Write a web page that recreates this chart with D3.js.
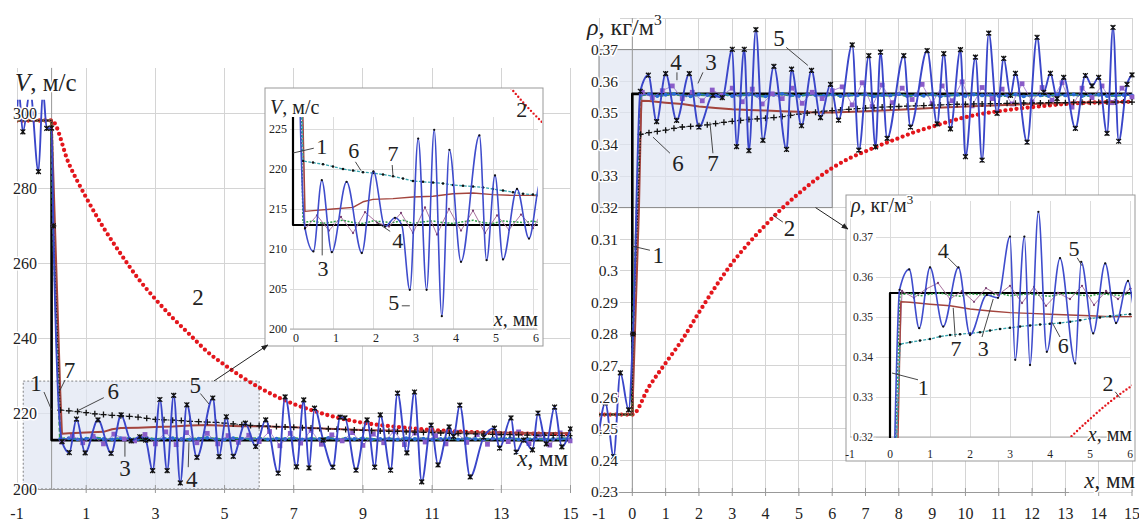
<!DOCTYPE html>
<html><head><meta charset="utf-8">
<script src="https://d3js.org/d3.v7.min.js"></script>
<style>
html,body{margin:0;padding:0;background:#fff;overflow:hidden}
svg text{font-family:"Liberation Serif","Times New Roman",serif;fill:#222}
.halo{paint-order:stroke;stroke:#fff;stroke-width:3px;stroke-linejoin:round}
</style></head><body>
<svg id="chart" width="1139" height="521"></svg>
<script>
// ================= DATA =================
const xq = [0.25,0.5,0.75,1,1.25,1.5,1.75,2,2.25,2.5,2.75,3,3.25,3.5,3.75,4,4.25,4.5,4.75,5,
  5.25,5.5,5.75,6,6.25,6.5,6.75,7,7.25,7.5,7.75,8,8.25,8.5,8.75,9,9.25,9.5,9.75,10,
  10.25,10.5,10.75,11,11.25,11.5,11.75,12,12.25,12.5,12.75,13,13.25,13.5,13.75,14,14.25,14.5,14.75,15];
const x4 = [0.3,0.6,0.9,1.2,1.5,1.8,2.1,2.4,2.7,3.0,3.3,3.6,3.9,4.2,4.5,4.8,5.1,5.4,5.7,6.0,
  6.3,6.6,6.9,7.2,7.5,7.8,8.1,8.4,8.7,9.0,9.3,9.6,9.9,10.2,10.5,10.8,11.1,11.4,11.7,12.0,
  12.3,12.6,12.9,13.2,13.5,13.8,14.1,14.4,14.7,15.0];

// ---- Velocity V, m/s ----
const V1_x = [-1,0,0,15];
const V1_y = [298,298,213,213];
const V2_x = [-1,0,0.5,1,1.5,2,2.5,3,3.5,4,4.5,5,5.5,6,6.5,7,7.5,8,8.5,9,9.5,10,10.5,11,11.5,12,13,14,15];
const V2_y = [298,298,286.5,277.5,269.5,262.5,256,250.5,245.5,241,236.5,233,229.8,227,224.6,222.6,221,219.6,218.5,217.6,217,216.5,216.1,215.7,215.4,215.2,214.9,214.7,214.6];
const V3_x = [-1,0,0.05,...xq];
const V3_y = [298,298,270,
  213.3,213.5,213.2,213.4,213.6,213.3,213.2,213.5,213.4,213.3,
  213.6,213.2,213.4,213.5,213.3,213.2,213.4,213.6,213.3,213.2,
  213.5,213.4,213.3,213.5,213.2,213.4,213.3,213.5,213.2,213.4,
  213.3,213.6,213.2,213.4,213.3,213.5,213.2,213.3,213.4,213.2,
  213.5,213.3,213.4,213.2,213.3,213.5,213.2,213.4,213.3,213.2,
  213.4,213.3,213.5,213.2,213.3,213.4,213.2,213.3,213.4,213.3];
const V4_x = [-1,0,0.05,...x4];
const V4_y = [298,298,270,
  212.5,214.2,212.3,214.0,212.0,214.6,213.3,212.8,214.5,212.0,
  215.2,211.8,215.0,212.3,214.8,212.0,214.2,212.4,214.3,212.6,
  215.3,211.5,214.8,212.2,215.6,211.9,214.4,212.8,215.0,211.6,
  214.6,212.3,215.4,211.8,214.9,212.5,214.2,212.0,215.1,212.4,
  214.5,211.9,214.8,212.6,215.2,212.1,214.4,211.7,214.9,212.8];
const V5_x = [-1,-0.95,-0.83,-0.62,-0.38,-0.25,-0.14,0,0.05,0.3,0.51,0.72,0.97,1.34,1.72,2.01,2.3,2.55,2.72,2.92,
  3.13,3.34,3.53,3.72,3.91,4.2,4.66,4.84,5.05,5.25,5.6,5.9,6.19,6.55,6.75,7.08,7.29,7.44,7.6,7.85,
  8.13,8.34,8.48,8.8,9.12,9.34,9.5,9.8,10.0,10.27,10.49,10.7,10.97,11.17,11.49,11.62,11.8,12.1,12.49,12.8,
  12.95,13.28,13.43,13.65,13.9,14.06,14.3,14.54,14.75,15];
const V5_y = [300,306,295,306,284.4,306,295.9,296,270,212.6,209.7,218.6,209.6,218.4,209.5,219.7,212.8,213.9,213.0,204.9,
  223.8,204.9,224.9,201.6,222.4,208.4,224.2,208.6,219.2,208.7,217.5,211.3,218.4,204.2,224.5,205.9,223.7,205.6,221.5,213.0,
  205.8,219.1,218.9,205.0,218.4,205.8,219.7,205.0,225.5,209.6,225.8,201.9,217.0,206.4,216.5,214.0,222.3,203.2,213.8,216.2,
  210.9,218.9,209.8,213.0,210.4,220.2,212.0,221.8,211.2,216.0];
const V6_x = [-1,0,0.05,...xq];
const V6_y = [298,298,270,
  221.0,220.8,220.6,220.3,220.0,219.8,219.6,219.5,219.3,219.1,
  218.8,218.5,218.4,218.3,218.2,218.0,217.9,217.8,217.7,217.5,
  217.3,217.1,216.9,216.8,216.7,216.6,216.5,216.4,216.3,216.2,
  216.1,216.0,215.9,215.8,215.7,215.6,215.5,215.4,215.35,215.3,
  215.2,215.1,215.05,215.0,214.9,214.8,214.75,214.7,214.65,214.6,
  214.55,214.5,214.45,214.4,214.35,214.3,214.3,214.25,214.2,214.2];
const V7_x = [-1,0,0.25,0.3,0.5,1,1.5,1.75,2,2.5,3,3.5,4,4.5,5,5.5,6,7,8,9,10,11,12,13,14,15];
const V7_y = [298,298,226,214.7,214.8,215.0,215.2,215.9,216.2,216.3,216.5,216.6,216.9,217.0,216.8,216.7,216.7,216.4,216.0,215.7,215.5,215.3,215.1,215.0,214.9,214.8];

// ---- Density rho, kg/m3 ----
const R1_x = [-1,0,0,15];
const R1_y = [0.2545,0.2545,0.356,0.356];
const R2_x = [-1,0,0.5,1,1.5,2,2.5,3,3.5,4,4.5,5,5.5,6,6.5,7,7.5,8,8.5,9,9.5,10,10.5,11,11.5,12,12.5,13,13.5,14,15];
const R2_y = [0.2545,0.2545,0.2633,0.2708,0.2782,0.2868,0.2950,0.3025,0.3088,0.3145,0.3198,0.3245,0.3288,0.3325,0.3355,
  0.3378,0.3400,0.3420,0.3440,0.3456,0.3472,0.3486,0.3497,0.3505,0.3512,0.3518,0.3523,0.3528,0.3531,0.3533,0.3535];
const R3_x = [-1,0,0.02,...xq];
const R3_y = [0.2545,0.2545,0.28,
  0.3556,0.3559,0.3553,0.3557,0.3560,0.3555,0.3552,0.3558,0.3556,0.3554,
  0.3559,0.3553,0.3556,0.3558,0.3554,0.3552,0.3557,0.3560,0.3555,0.3553,
  0.3558,0.3556,0.3554,0.3558,0.3553,0.3556,0.3555,0.3558,0.3552,0.3556,
  0.3555,0.3559,0.3553,0.3556,0.3554,0.3558,0.3552,0.3555,0.3557,0.3553,
  0.3558,0.3555,0.3556,0.3553,0.3555,0.3558,0.3552,0.3556,0.3555,0.3553,
  0.3557,0.3555,0.3558,0.3553,0.3555,0.3557,0.3553,0.3555,0.3556,0.3555];
const R4_x = [-1,0,0.02,...x4];
const R4_y = [0.2545,0.2545,0.28,
  0.3565,0.3548,0.3570,0.3585,0.3545,0.3565,0.3538,0.3572,0.3555,0.3578,
  0.3535,0.3575,0.3528,0.3560,0.3545,0.3578,0.3530,0.3565,0.3545,0.3570,
  0.3582,0.3525,0.3595,0.3520,0.3588,0.3532,0.3578,0.3542,0.3590,0.3530,
  0.3585,0.3538,0.3598,0.3522,0.3580,0.3545,0.3575,0.3528,0.3592,0.3535,
  0.3580,0.3540,0.3595,0.3518,0.3578,0.3548,0.3585,0.3532,0.3578,0.3550];
const R5_x = [-1,-0.81,-0.56,-0.36,-0.11,0.02,0.24,0.48,0.73,1.0,1.33,1.71,2.0,2.42,2.7,3.0,3.13,3.36,3.5,3.71,
  3.92,4.25,4.63,4.78,5.08,5.38,5.65,5.95,6.19,6.6,6.8,7.1,7.3,7.45,7.65,8.15,8.35,8.85,9.15,9.35,
  9.55,9.85,10.0,10.3,10.5,10.7,10.95,11.15,11.35,11.5,11.85,12.15,12.35,12.55,12.75,12.95,13.3,13.6,13.8,14.0,
  14.25,14.43,14.6,14.85,15];
const R5_y = [0.2487,0.2582,0.2412,0.2677,0.256,0.28,0.3568,0.3619,0.3472,0.3624,0.3476,0.3624,0.3455,0.3555,0.3548,0.3701,0.3393,0.3701,0.338,0.3763,
  0.3413,0.3647,0.3384,0.3638,0.3459,0.3634,0.3485,0.359,0.3477,0.3715,0.3382,0.3681,0.3392,0.3692,0.3419,0.3681,0.3455,0.3697,0.3465,0.3687,
  0.3449,0.37,0.3361,0.3676,0.335,0.3752,0.3498,0.3672,0.3555,0.3625,0.3407,0.3739,0.3565,0.3625,0.3545,0.3612,0.3451,0.3618,0.3585,0.3612,
  0.3435,0.377,0.341,0.359,0.362];
const R6_x = [-1,0,0.02,...xq];
const R6_y = [0.2545,0.2545,0.28,
  0.3432,0.3437,0.3441,0.3445,0.3451,0.3455,0.3457,0.3459,0.3462,0.3466,
  0.3470,0.3473,0.3476,0.3479,0.3481,0.3483,0.3485,0.3488,0.3492,0.3496,
  0.3499,0.3502,0.3505,0.3507,0.3509,0.3511,0.3513,0.3515,0.3516,0.3518,
  0.3519,0.3520,0.3521,0.3522,0.3523,0.3524,0.3525,0.3526,0.3527,0.3527,
  0.3528,0.3528,0.3529,0.3529,0.3530,0.3530,0.3531,0.3531,0.3531,0.3532,
  0.3532,0.3532,0.3533,0.3533,0.3533,0.3533,0.3534,0.3534,0.3534,0.3534];
const R7_x = [-1,0,0.2,0.27,0.5,1,1.5,2,2.5,3,3.5,4,4.5,5,5.5,6,7,8,9,10,11,12,13,14,15];
const R7_y = [0.2545,0.2545,0.32,0.3538,0.3537,0.3532,0.3528,0.352,0.3515,0.3511,0.3509,0.3507,0.3505,0.3503,0.3501,0.3501,0.3505,0.351,0.3515,0.352,0.3524,0.3528,0.3531,0.3533,0.3534];

// ---- ticks ----
const vXTicks = [-1,1,3,5,7,9,11,13,15];
const vYTicks = [200,220,240,260,280,300];
const viXTicks = [0,1,2,3,4,5,6];
const viYTicks = [200,205,210,215,220,225];
const rXTicks = [-1,0,1,2,3,4,5,6,7,8,9,10,11,12,13,14,15];
const rYTicks = [0.23,0.24,0.25,0.26,0.27,0.28,0.29,0.3,0.31,0.32,0.33,0.34,0.35,0.36,0.37];
const riXTicks = [-1,0,1,2,3,4,5,6];
const riYTicks = [0.32,0.33,0.34,0.35,0.36,0.37];

// ---- annotations (data coordinates of each panel) ----
const annVmain = [
 {t:"1", p:[-0.45,228.2], l:[[-0.22,225.8],[0,221]]},
 {t:"7", p:[0.52,231.6], l:[[0.39,229],[0.2,225.5]]},
 {t:"6", p:[1.78,226], l:[[1.51,224.3],[0.71,220.6]]},
 {t:"5", p:[4.15,227.7], l:[[4.3,225.4],[4.55,222.6]]},
 {t:"3", p:[2.12,205.6], l:[[2.12,208.6],[2.12,212.6]]},
 {t:"4", p:[4.05,202.6], l:[[3.95,205.8],[3.97,212.4]]},
 {t:"2", p:[4.23,251], l:null}];
const annVinset = [
 {t:"1", p:[0.72,222.9], l:[[0.52,222.6],[0.0,222]]},
 {t:"6", p:[1.52,222.3], l:[[1.56,220.9],[1.7,219.8]]},
 {t:"7", p:[2.5,222.0], l:[[2.48,220.5],[2.5,219.1]]},
 {t:"2", p:[5.72,227.5], l:null},
 {t:"3", p:[0.75,207.6], l:[[0.73,209.2],[0.73,213.3]]},
 {t:"4", p:[2.62,211.1], l:[[2.43,212.2],[2.1,213.3]]},
 {t:"5", p:[2.52,203.3], l:[[2.72,202.9],[2.92,202.9]]}];
const annRmain = [
 {t:"5", p:[4.4,0.3736], l:[[4.62,0.3707],[5.27,0.365]]},
 {t:"4", p:[1.31,0.366], l:[[1.34,0.3628],[1.34,0.3603]]},
 {t:"3", p:[2.36,0.366], l:[[2.12,0.3628],[1.97,0.3593]]},
 {t:"6", p:[1.37,0.334], l:[[1.13,0.3372],[0.62,0.3423]]},
 {t:"7", p:[2.42,0.334], l:[[2.42,0.3372],[2.33,0.347]]},
 {t:"1", p:[0.78,0.305], l:[[0.53,0.3065],[0.0,0.3078]]},
 {t:"2", p:[4.72,0.3135], l:[[4.52,0.3154],[4.22,0.3176]]}];
const annRinset = [
 {t:"4", p:[1.33,0.3668], l:[[1.45,0.3648],[1.68,0.3625]]},
 {t:"5", p:[4.6,0.3673], l:[[4.68,0.3648],[4.8,0.3628]]},
 {t:"7", p:[1.65,0.3423], l:[[1.63,0.345],[1.58,0.3523]]},
 {t:"3", p:[2.33,0.3423], l:[[2.3,0.345],[2.58,0.3545]]},
 {t:"6", p:[4.33,0.343], l:[[4.25,0.345],[4.05,0.3487]]},
 {t:"1", p:[0.83,0.3325], l:[[0.7,0.3343],[0.05,0.336]]},
 {t:"2", p:[5.45,0.3335], l:[[5.63,0.3313],[5.75,0.3298]]}];

// ================= DRAWING =================
const svg = d3.select("#chart");
const defs = svg.append("defs");
defs.append("marker").attr("id","arr").attr("viewBox","0 0 10 10").attr("refX",9).attr("refY",5)
  .attr("markerWidth",7).attr("markerHeight",7).attr("orient","auto")
  .append("path").attr("d","M0,1L10,5L0,9Z").attr("fill","#222");
function clip(id,x0,y0,x1,y1){
  defs.append("clipPath").attr("id",id).append("rect").attr("x",x0).attr("y",y0).attr("width",x1-x0).attr("height",y1-y0);
  return `url(#${id})`;
}
const pts = (xs,ys)=>xs.map((x,i)=>[x,ys[i]]);

const xV = d3.scaleLinear().domain([-1,15]).range([17,570.5]);
const yV = d3.scaleLinear().domain([200,300]).range([489,113]);
const xVi = d3.scaleLinear().domain([0,6]).range([293,533]);
const yVi = d3.scaleLinear().domain([200,225]).range([329,129]);
const xR = d3.scaleLinear().domain([-1,15]).range([599,1132]);
const yR = d3.scaleLinear().domain([0.23,0.37]).range([492,49.6]);
const xRi = d3.scaleLinear().domain([-1,6]).range([850,1130]);
const yRi = d3.scaleLinear().domain([0.32,0.37]).range([437,237]);

function grid(g,sx,sy,xt,yt,hx,vy,color){
  g.append("g").selectAll("line").data(xt).join("line")
    .attr("x1",d=>sx(d)).attr("x2",d=>sx(d)).attr("y1",sy(vy[0])).attr("y2",sy(vy[1]))
    .attr("stroke",color).attr("shape-rendering","crispEdges");
  g.append("g").selectAll("line").data(yt).join("line")
    .attr("y1",d=>sy(d)).attr("y2",d=>sy(d)).attr("x1",sx(hx[0])).attr("x2",sx(hx[1]))
    .attr("stroke",color).attr("shape-rendering","crispEdges");
}
function line(g,data,sx,sy,st){
  return g.append("path").attr("d",d3.line().x(d=>sx(d[0])).y(d=>sy(d[1])).curve(st.curve||d3.curveLinear)(data))
    .attr("fill","none").attr("stroke",st.color).attr("stroke-width",st.w)
    .attr("stroke-dasharray",st.dash||null).attr("stroke-linecap",st.cap||"butt").attr("stroke-linejoin","round");
}
function marks(g,data,sx,sy,type,opt){
  opt = opt||{};
  const s = g.append("g").selectAll("path").data(data).join("path")
    .attr("transform",d=>`translate(${sx(d[0])},${sy(d[1])})`);
  if(type==="x") s.attr("d","M-2.4,-2.4L2.4,2.4M-2.4,2.4L2.4,-2.4M0,-2.6V2.6").attr("stroke","#111").attr("stroke-width",1.3).attr("fill","none");
  if(type==="+") s.attr("d","M-3,0H3M0,-3V3").attr("stroke","#111").attr("stroke-width",1.3).attr("fill","none");
  if(type==="sq") s.attr("d","M-2.4,-2.4H2.4V2.4H-2.4Z").attr("fill",opt.color);
  if(type==="dot") s.attr("d",d3.symbol().type(d3.symbolCircle).size(opt.size||5)).attr("fill",opt.color);
}
function annotate(g,list,sx,sy,size){
  list.forEach(a=>{
    if(a.l) g.append("line").attr("x1",sx(a.l[0][0])).attr("y1",sy(a.l[0][1])).attr("x2",sx(a.l[1][0])).attr("y2",sy(a.l[1][1]))
      .attr("stroke","#333").attr("stroke-width",0.9);
    g.append("text").attr("x",sx(a.p[0])).attr("y",sy(a.p[1])).attr("dy","0.35em").attr("text-anchor","middle")
      .attr("font-size",size).attr("fill","#111").text(a.t);
  });
}
function title(g,x,y,size,italic,rest,sup,anchor){
  const t = g.append("text").attr("x",x).attr("y",y).attr("font-size",size).attr("text-anchor",anchor||"start").attr("class","halo").attr("fill","#111");
  t.append("tspan").attr("font-style","italic").text(italic);
  t.append("tspan").text(rest);
  if(sup) t.append("tspan").attr("dy",-size*0.4).attr("font-size",size*0.65).text(sup);
  return t;
}

const gridC = "#d4d4d4";
const C = {red:"#e3161c", blue:"#3a46c9", brown:"#a3443d", green:"#2f9e46", teal:"#35a3ad",
  mauve:"#a9739f", purple:"#8a5cc8", bdot:"#2a6ad6"};

function drawMain(g,sx,sy,S,clipUrl){
  const d = g.append("g").attr("clip-path",clipUrl);
  line(d,S.s1,sx,sy,{color:"#000",w:2.6});
  line(d,S.s2,sx,sy,{color:C.red,w:4.3,dash:"0 5.6",cap:"round",curve:d3.curveMonotoneX});
  line(d,S.s3,sx,sy,{color:C.green,w:2.6,dash:"4 2"});
  line(d,S.s3.filter(p=>p[0]>0.1),sx,sy,{color:C.bdot,w:1.1});
  marks(d,S.s3.filter(p=>p[0]>0.1),sx,sy,"dot",{color:C.bdot,size:12});
  line(d,S.s4,sx,sy,{color:C.purple,w:0.7});
  marks(d,S.s4.filter(p=>p[0]>0),sx,sy,"sq",{color:C.purple});
  line(d,S.s7,sx,sy,{color:C.brown,w:2});
  line(d,S.s6,sx,sy,{color:"#111",w:0.9,dash:"1.5 1.5"});
  marks(d,S.s6.filter(p=>p[0]>0),sx,sy,"+");
  line(d,S.s5,sx,sy,{color:C.blue,w:1.9,curve:d3.curveMonotoneX});
  marks(d,S.s5,sx,sy,"x");
}
function drawInset(g,sx,sy,S,clipUrl,redClip){
  const r = g.append("g").attr("clip-path",redClip);
  line(r,S.s2,sx,sy,{color:C.red,w:2.4,dash:"0 3.8",cap:"round",curve:d3.curveMonotoneX});
  const d = g.append("g").attr("clip-path",clipUrl);
  line(d,S.s1,sx,sy,{color:"#000",w:2.2});
  line(d,S.s3,sx,sy,{color:C.green,w:1.5,dash:"2 1.5"});
  line(d,S.s4,sx,sy,{color:C.mauve,w:1});
  marks(d,S.s4.filter(p=>p[0]>0),sx,sy,"dot",{color:"#7a3f72",size:4});
  line(d,S.s7,sx,sy,{color:C.brown,w:1.4});
  line(d,S.s6,sx,sy,{color:C.teal,w:1.3,dash:"3 1.5"});
  marks(d,S.s6.filter(p=>p[0]>0),sx,sy,"dot",{color:"#111",size:5});
  line(d,S.s5,sx,sy,{color:"#3f4ccc",w:1.6,curve:d3.curveMonotoneX});
  marks(d,S.s5,sx,sy,"dot",{color:"#111",size:4});
}

const SV = {s1:pts(V1_x,V1_y),s2:pts(V2_x,V2_y),s3:pts(V3_x,V3_y),s4:pts(V4_x,V4_y),s5:pts(V5_x,V5_y),s6:pts(V6_x,V6_y),s7:pts(V7_x,V7_y)};
const SR = {s1:pts(R1_x,R1_y),s2:pts(R2_x,R2_y),s3:pts(R3_x,R3_y),s4:pts(R4_x,R4_y),s5:pts(R5_x,R5_y),s6:pts(R6_x,R6_y),s7:pts(R7_x,R7_y)};

// ---------- LEFT PANEL (V) ----------
const L = svg.append("g");
grid(L,xV,yV,vXTicks,vYTicks,[xV.invert(38),15],[200,312],gridC);
L.append("rect").attr("x",xV(-0.82)).attr("y",yV(228.7)).attr("width",xV(6)-xV(-0.82)).attr("height",yV(200)-yV(228.7))
  .attr("fill","#dfe6f2").attr("fill-opacity",0.7).attr("stroke","#666").attr("stroke-width",0.8).attr("stroke-dasharray","2 2");
L.append("line").attr("x1",xV(0)).attr("x2",xV(0)).attr("y1",yV(312)).attr("y2",yV(200)).attr("stroke","#999");
L.append("line").attr("x1",xV(-1)).attr("x2",xV(12.8)).attr("y1",yV(200)).attr("y2",yV(200)).attr("stroke","#999").attr("shape-rendering","crispEdges");
L.append("g").selectAll("line").data(vXTicks).join("line").attr("x1",d=>xV(d)).attr("x2",d=>xV(d))
  .attr("y1",yV(200)-4).attr("y2",yV(200)+4).attr("stroke","#999");
drawMain(L,xV,yV,SV,clip("clL",xV(-1),yV(303.5),xV(15)+2,yV(200)+3));
L.append("g").selectAll("text").data(vYTicks).join("text").attr("x",37).attr("y",d=>yV(d)).attr("dy","0.35em")
  .attr("text-anchor","end").attr("font-size",16).attr("class","halo").text(d=>d);
L.append("g").selectAll("text").data(vXTicks).join("text").attr("x",d=>xV(d)).attr("y",519)
  .attr("text-anchor","middle").attr("font-size",16).text(d=>d);
title(L,15,91,25,"V",", м/с");
title(L,568,466,23,"x",", мм",null,"end");
annotate(L,annVmain,xV,yV,23);

// inset V
const LI = svg.append("g");
LI.append("rect").attr("x",265).attr("y",88).attr("width",278).attr("height",258).attr("fill","#fff").attr("stroke","#999");
grid(LI,xVi,yVi,viXTicks,viYTicks,[xVi.invert(290),xVi.invert(538)],[200,226.5],"#dcdcdc");
LI.append("line").attr("x1",xVi(-0.075)).attr("x2",xVi(6.1)).attr("y1",yVi(200)).attr("y2",yVi(200)).attr("stroke","#aaa");
drawInset(LI,xVi,yVi,SV,clip("clLI",xVi(-0.07),yVi(226.5),xVi(6.12),yVi(200)+2),clip("clLI2",266,89,542,345));
LI.append("g").selectAll("text").data(viYTicks).join("text").attr("x",287).attr("y",d=>yVi(d)).attr("dy","0.35em")
  .attr("text-anchor","end").attr("font-size",12).attr("class","halo").text(d=>d);
LI.append("g").selectAll("text").data(viXTicks).join("text").attr("x",d=>xVi(d)+3).attr("y",342)
  .attr("text-anchor","middle").attr("font-size",12).text(d=>d);
title(LI,270,114,20,"V",", м/с");
title(LI,538,326,20,"x",", мм",null,"end");
annotate(LI,annVinset,xVi,yVi,22);
svg.append("line").attr("x1",xV(4.69)).attr("y1",yV(228.7)).attr("x2",xVi(-0.63)).attr("y2",yVi(198))
  .attr("stroke","#222").attr("stroke-width",1).attr("marker-end","url(#arr)");

// ---------- RIGHT PANEL (rho) ----------
const R = svg.append("g");
grid(R,xR,yR,rXTicks,rYTicks.concat([0.38]),[xR.invert(620),15],[0.23,0.38],gridC);
R.append("rect").attr("x",xR(-1)).attr("y",yR(0.37)).attr("width",xR(6)-xR(-1)).attr("height",yR(0.32)-yR(0.37))
  .attr("fill","#dfe6f2").attr("fill-opacity",0.7).attr("stroke","#888").attr("stroke-width",1);
R.append("line").attr("x1",xR(0)).attr("x2",xR(0)).attr("y1",yR(0.38)).attr("y2",yR(0.23)).attr("stroke","#999");
R.append("line").attr("x1",xR(-1)).attr("x2",xR(13.1)).attr("y1",yR(0.23)).attr("y2",yR(0.23)).attr("stroke","#999").attr("shape-rendering","crispEdges");
R.append("g").selectAll("line").data(rXTicks).join("line").attr("x1",d=>xR(d)).attr("x2",d=>xR(d))
  .attr("y1",yR(0.23)-4).attr("y2",yR(0.23)+4).attr("stroke","#999");
drawMain(R,xR,yR,SR,clip("clR",xR(-1),yR(0.38)-2,xR(15)+3,yR(0.23)+3));
R.append("g").selectAll("text").data(rYTicks).join("text").attr("x",618).attr("y",d=>yR(d)).attr("dy","0.35em")
  .attr("text-anchor","end").attr("font-size",15.5).attr("class","halo").text(d=>d);
R.append("g").selectAll("text").data(rXTicks).join("text").attr("x",d=>xR(d)).attr("y",519)
  .attr("text-anchor","middle").attr("font-size",16).text(d=>d);
title(R,587,35,24,"ρ",", кг/м","3");
title(R,1135,488,23,"x",", мм",null,"end");
annotate(R,annRmain,xR,yR,23);

// inset rho
const RI = svg.append("g");
RI.append("rect").attr("x",846).attr("y",195).attr("width",289).attr("height",266).attr("fill","#fff").attr("stroke","#999");
grid(RI,xRi,yRi,riXTicks,riYTicks,[xRi.invert(876),xRi.invert(1131)],[0.32,0.379],"#dcdcdc");
RI.append("line").attr("x1",xRi(-1)).attr("x2",xRi(6)).attr("y1",yRi(0.32)).attr("y2",yRi(0.32)).attr("stroke","#aaa");
drawInset(RI,xRi,yRi,SR,clip("clRI",xRi(-1),yRi(0.379),xRi(6.05),yRi(0.32)+1),clip("clRI2",xRi(-1),yRi(0.379),xRi(6.05),yRi(0.32)));
RI.append("g").selectAll("text").data(riYTicks).join("text").attr("x",873).attr("y",d=>yRi(d)).attr("dy","0.35em")
  .attr("text-anchor","end").attr("font-size",11.5).attr("class","halo").text(d=>d);
RI.append("g").selectAll("text").data(riXTicks).join("text").attr("x",d=>xRi(d)).attr("y",458)
  .attr("text-anchor","middle").attr("font-size",11.5).text(d=>d);
title(RI,851,212,20,"ρ",", кг/м","3");
title(RI,1132,441,20,"x",", мм",null,"end");
annotate(RI,annRinset,xRi,yRi,22);
svg.append("line").attr("x1",xR(5.5)).attr("y1",yR(0.32)).attr("x2",xRi(-1.05)).attr("y2",yRi(0.372))
  .attr("stroke","#222").attr("stroke-width",1).attr("marker-end","url(#arr)");
</script>
</body></html>
